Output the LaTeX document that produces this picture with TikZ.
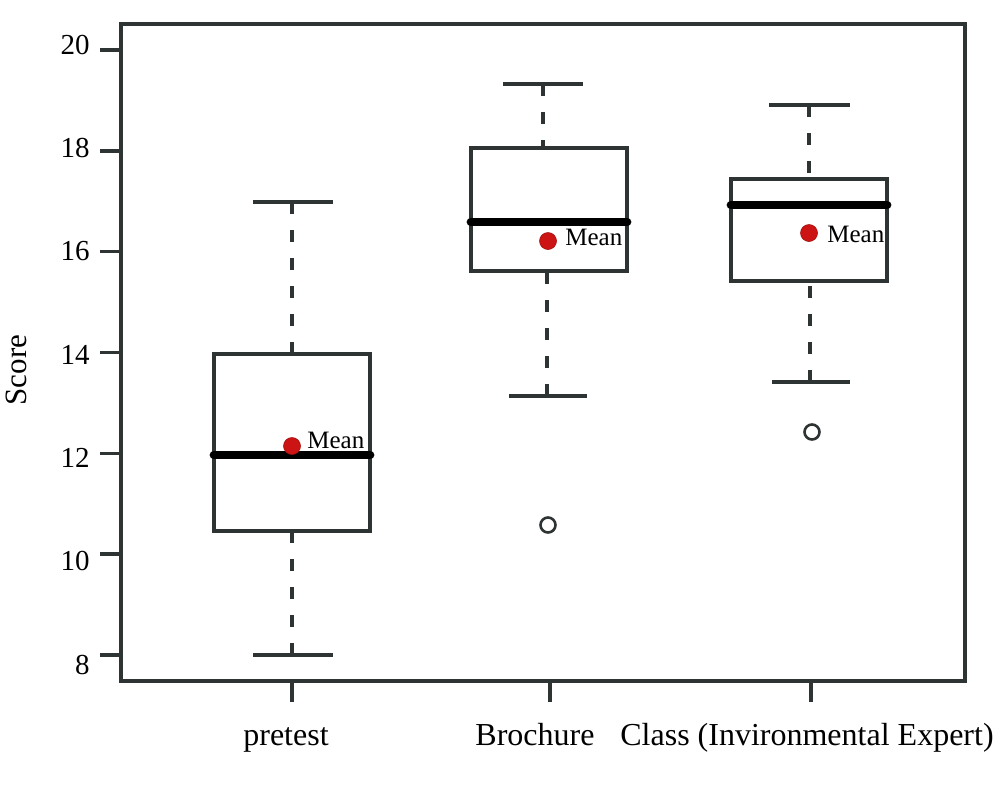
\documentclass[tikz,border=0pt]{standalone}
\usepackage{fontspec}
\setmainfont{Liberation Serif}
\usetikzlibrary{positioning}
\definecolor{axisgray}{HTML}{2E3333}
\definecolor{meanred}{HTML}{CC1414}

\begin{document}
\begin{tikzpicture}[x=0.5pt, y=-0.5pt]
  % Styles
  \tikzset{
    plotframe/.style = {draw=axisgray, line width=1.9pt},
    axistick/.style = {draw=axisgray, line width=1.7pt},
    boxrect/.style = {draw=axisgray, line width=1.6pt},
    median/.style = {draw=black, line width=4.4pt, line cap=round},
    whisker/.style = {draw=axisgray, line width=1.6pt, dash pattern=on 6pt off 8pt},
    whiskercap/.style = {draw=axisgray, line width=1.6pt},
    meandot/.style = {shape=circle, fill=meanred, draw=meanred!80!black, line width=0.3pt, minimum size=8.5pt, inner sep=0pt},
    outlier/.style = {shape=circle, draw=axisgray, line width=1.3pt, fill=white, minimum size=7.5pt, inner sep=0pt},
    ticklabel/.style = {anchor=east, inner sep=0pt, font=\fontsize{14.5pt}{17pt}\selectfont},
    grouplabel/.style = {anchor=base, inner sep=0pt, font=\fontsize{16pt}{19pt}\selectfont},
    meanlabel/.style = {anchor=base west, inner sep=0pt, font=\fontsize{12.5pt}{15pt}\selectfont}
  }

  \useasboundingbox (0,0) rectangle (1000,800);

  % Frame
  \draw[plotframe] (121,24) rectangle (965,681);

  % Y axis
  \draw[axistick] (100,50) -- (121,50);
  \draw[axistick] (100,150.8) -- (121,150.8);
  \draw[axistick] (100,251.6) -- (121,251.6);
  \draw[axistick] (100,352.4) -- (121,352.4);
  \draw[axistick] (100,453.2) -- (121,453.2);
  \draw[axistick] (100,554) -- (121,554);
  \draw[axistick] (100,654.8) -- (121,654.8);

  \node[ticklabel] (L20) at (90,45) {20};
  \node[ticklabel] (L18) at (90,148) {18};
  \node[ticklabel] (L16) at (90,251) {16};
  \node[ticklabel] (L14) at (90,355) {14};
  \node[ticklabel] (L12) at (90,458) {12};
  \node[ticklabel] (L10) at (90,561) {10};
  \node[ticklabel] (L8) at (90,665) {8};

  \node[font=\fontsize{15.5pt}{18pt}\selectfont, rotate=90, inner sep=0pt] (Score) at (16,370) {Score};

  % X axis
  \draw[axistick] (292,681) -- (292,702);
  \draw[axistick] (550,681) -- (550,702);
  \draw[axistick] (811,681) -- (811,702);

  \node[grouplabel] (Pretest) at (286,745) {pretest};
  \node[grouplabel] (Brochure) at (535,745) {Brochure};
  \node[grouplabel] (Class) at (807,745) {Class (Invironmental Expert)};

  % Pretest
  \draw[whisker] (292,202) -- (292,354);
  \draw[whisker] (292,655) -- (292,531);
  \draw[whiskercap] (253,202) -- (333,202);
  \draw[whiskercap] (253,655) -- (333,655);
  \draw[boxrect] (214,354) rectangle (370,531);
  \draw[median] (214,455) -- (370,455);
  \node[meandot] (MeanPre) at (292,446) {};
  \node[meanlabel] (MeanPreText) at (307,448) {Mean};

  % Brochure
  \draw[whisker] (543,84) -- (543,148);
  \draw[whisker] (547,396) -- (547,271);
  \draw[whiskercap] (503,84) -- (583,84);
  \draw[whiskercap] (509,396) -- (587,396);
  \draw[boxrect] (471,148) rectangle (627,271);
  \draw[median] (471,222) -- (627,222);
  \node[meandot] (MeanBro) at (548,241) {};
  \node[meanlabel] (MeanBroText) at (565,245) {Mean};
  \node[outlier] (OutBro) at (548,525) {};

  % Class
  \draw[whisker] (809,105) -- (809,179);
  \draw[whisker] (810,382) -- (810,281);
  \draw[whiskercap] (769,105) -- (850,105);
  \draw[whiskercap] (772,382) -- (850,382);
  \draw[boxrect] (731,179) rectangle (887,281);
  \draw[median] (731,205) -- (887,205);
  \node[meandot] (MeanCls) at (809,233) {};
  \node[meanlabel] (MeanClsText) at (827,242) {Mean};
  \node[outlier] (OutCls) at (812,432) {};

\end{tikzpicture}
\end{document}
